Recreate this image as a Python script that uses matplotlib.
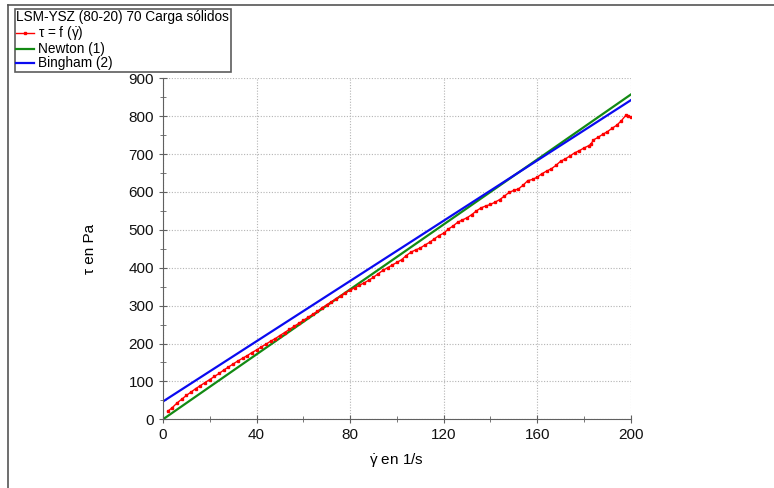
import matplotlib
matplotlib.use("Agg")
import matplotlib.pyplot as plt
from matplotlib.lines import Line2D
from matplotlib.ticker import MultipleLocator

plt.rcParams["font.family"] = ["Liberation Sans", "DejaVu Sans"]
plt.rcParams["mathtext.fontset"] = "custom"
plt.rcParams["mathtext.rm"] = "Liberation Sans"
plt.rcParams["mathtext.it"] = "Liberation Sans"

# measured flow curve (shear rate in 1/s, shear stress in Pa)
shear_rate = [2, 4, 6, 8, 10, 12, 14, 16, 18, 20, 22, 24, 26, 28, 30, 32, 34, 36, 38, 40,
              42, 44, 46, 48, 50, 52, 54, 56, 58, 60, 62, 64, 66, 68, 70, 72, 74, 76, 78, 80,
              82, 84, 86, 88, 90, 92, 94, 96, 98, 100, 102, 104, 106, 108, 110, 112, 114, 116,
              118, 120, 122, 124, 126, 128, 130, 132, 134, 136, 138, 140, 142, 144, 146, 148,
              150, 152, 154, 156, 158, 160, 162, 164, 166, 168, 170, 172, 174, 176, 178, 180,
              182, 183, 184, 186, 188, 190, 192, 194, 196, 198, 199, 200]
stress = [21, 31, 43, 53, 63, 72, 81, 89, 97, 105, 113, 121, 130, 138, 146, 154, 161, 168, 176, 183,
          191, 198, 206, 213, 221, 229, 237, 245, 253, 261, 269, 277, 285, 294, 302, 310, 318, 326, 334, 341,
          347, 354, 360, 367, 375, 384, 393, 400, 407, 414, 421, 432, 441, 447, 452, 460, 467, 476,
          485, 491, 502, 510, 520, 526, 532, 540, 550, 558, 563, 567, 573, 580, 589, 599,
          604, 608, 618, 630, 633, 639, 648, 655, 661, 670, 681, 687, 695, 703, 709, 716,
          722, 726, 737, 744, 752, 759, 768, 776, 788, 803, 800, 798]

# fitted models, end points
fit_rate = [0, 200]
newton_stress = [0, 857]
bingham_stress = [47, 842]

GAMMA_DOT = r"$\dot{\mathrm{\gamma}}$"

fig = plt.figure(figsize=(7.74, 4.88), dpi=100)
ax = fig.add_axes([0.2106, 0.1408, 0.6043, 0.6988])

ax.plot(shear_rate, stress, color="#ff0000", lw=1.0, marker="s", ms=1.6,
        label="\u03c4 = f (" + GAMMA_DOT + ")", zorder=3)
ax.plot(fit_rate, newton_stress, color="#138a13", lw=1.6, label="Newton (1)", zorder=2)
ax.plot(fit_rate, bingham_stress, color="#0a0af0", lw=1.6, label="Bingham (2)", zorder=2)

ax.set_xlim(0, 200)
ax.set_ylim(0, 900)
ax.xaxis.set_major_locator(MultipleLocator(40))
ax.xaxis.set_minor_locator(MultipleLocator(20))
ax.yaxis.set_major_locator(MultipleLocator(100))
ax.yaxis.set_minor_locator(MultipleLocator(50))
ax.grid(True, which="major", color="#b4b4b4", linestyle=(0, (1, 1.5)), lw=0.8)

for side in ("top", "right"):
    ax.spines[side].set_visible(False)
for side in ("left", "bottom"):
    ax.spines[side].set_color("#606060")
ax.tick_params(which="major", direction="inout", length=6, color="#606060",
               labelsize=11, labelcolor="#111111")
ax.tick_params(which="minor", direction="inout", length=4, color="#606060")

ax.set_xlabel(GAMMA_DOT + " en 1/s", fontsize=11, labelpad=6)
ax.set_ylabel("\u03c4 en Pa", fontsize=11, labelpad=23)

leg = fig.legend(loc="upper left", bbox_to_anchor=(0.019, 0.982), frameon=True,
                 title="LSM-YSZ (80-20) 70 Carga s\u00f3lidos", fontsize=9.8,
                 title_fontsize=9.8, fancybox=False, handlelength=1.3,
                 handletextpad=0.3, borderpad=0.12, labelspacing=0.0,
                 borderaxespad=0, numpoints=1)
leg._legend_box.align = "left"
leg.get_frame().set_edgecolor("#333333")
leg.get_frame().set_linewidth(1.2)

# outer frame lines of the exported window
fig.add_artist(Line2D([0.0103, 1.0], [0.99, 0.99], transform=fig.transFigure,
                      color="#555555", lw=1.2))
fig.add_artist(Line2D([0.0103, 0.0103], [0.0, 0.99], transform=fig.transFigure,
                      color="#555555", lw=1.2))

fig.savefig("out.png", dpi=100)
